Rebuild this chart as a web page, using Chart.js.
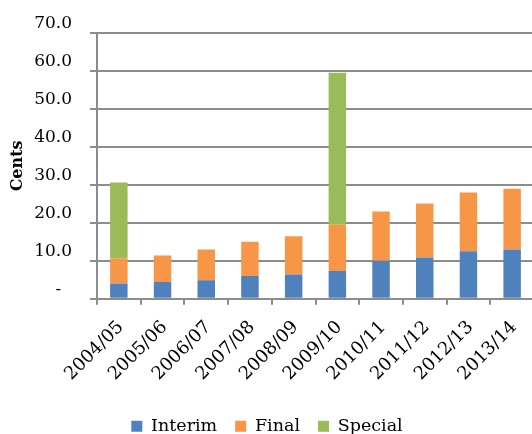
<!DOCTYPE html>
<html>
<head>
<meta charset="utf-8">
<script src="https://cdn.jsdelivr.net/npm/chart.js@4/dist/chart.umd.min.js"></script>
<style>
  html, body { margin: 0; padding: 0; background: #fff; overflow: hidden; }
  #wrap { position: relative; width: 540px; height: 445px; }
</style>
</head>
<body>
<div id="wrap"><canvas id="chart" width="540" height="445"></canvas></div>
<script>
// Dividend per share by financial year, in cents
const years = ['2004/05', '2005/06', '2006/07', '2007/08', '2008/09',
               '2009/10', '2010/11', '2011/12', '2012/13', '2013/14'];
const interim = [4.0, 4.4, 4.9, 6.0, 6.4, 7.3, 10.0, 10.9, 12.5, 13.0];
const finalDiv = [6.6, 7.0, 8.1, 9.0, 10.1, 12.2, 13.0, 14.2, 15.5, 16.0];
const special = [20.0, 0, 0, 0, 0, 40.0, 0, 0, 0, 0];
const yTicks = [0, 10, 20, 30, 40, 50, 60, 70];

const FONT = 'DejaVu Serif';
const GRID = '#8c8c8c';

new Chart(document.getElementById('chart'), {
  type: 'bar',
  data: {
    labels: years,
    datasets: [
      { label: 'Interim', data: interim, backgroundColor: '#4F81BD' },
      { label: 'Final', data: finalDiv, backgroundColor: '#F79646' },
      { label: 'Special', data: special, backgroundColor: '#9BBB59' }
    ]
  },
  options: {
    responsive: false,
    animation: false,
    layout: { padding: { top: 33, right: 6, left: 0, bottom: 0 } },
    datasets: { bar: { barPercentage: 0.4, categoryPercentage: 1.0 } },
    plugins: {
      tooltip: { enabled: false },
      legend: {
        position: 'bottom',
        labels: {
          font: { family: FONT, size: 17.5 },
          color: '#000',
          boxWidth: 11,
          boxHeight: 11,
          padding: 18
        }
      }
    },
    scales: {
      x: {
        stacked: true,
        // fixed axis band so the plot area keeps its place
        afterFit: (scale) => {
          scale.height = 100.7;
          scale.paddingLeft = 0;
          scale.paddingRight = 0;
        },
        grid: { display: true, drawOnChartArea: false, drawTicks: true, tickLength: 6, color: GRID, lineWidth: 2 },
        border: { display: true, color: GRID, width: 2 },
        ticks: {
          font: { family: FONT, size: 18 },
          color: '#000',
          minRotation: 45,
          maxRotation: 45,
          padding: 12,
          labelOffset: 2
        }
      },
      y: {
        stacked: true,
        min: 0,
        max: 70,
        afterBuildTicks: (scale) => { scale.ticks = yTicks.map(v => ({ value: v })); },
        afterFit: (scale) => {
          scale.width = 97;
          scale.paddingTop = 0;
          scale.paddingBottom = 0;
        },
        grid: { color: GRID, lineWidth: 2, tickLength: 7 },
        border: { display: true, color: GRID, width: 2 },
        title: {
          display: true,
          text: 'Cents',
          font: { family: FONT, size: 16, weight: 'bold' },
          color: '#000',
          padding: { top: 8, bottom: 0 }
        },
        ticks: {
          font: { family: FONT, size: 17 },
          color: '#000',
          padding: 18,
          labelOffset: -9,
          callback: (v) => v === 0 ? '-  ' : v.toFixed(1)
        }
      }
    }
  }
});
</script>
</body>
</html>
